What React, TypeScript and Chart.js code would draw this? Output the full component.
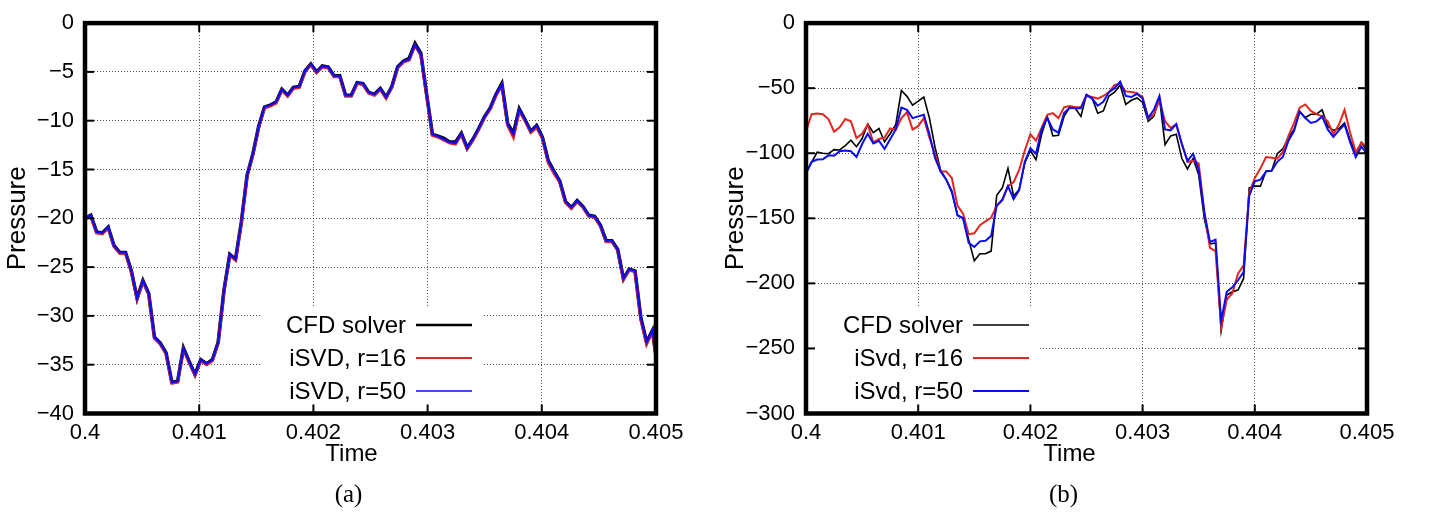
import { useEffect, useRef } from "react";
import { Chart, registerables } from "chart.js";

Chart.register(...registerables);

// ---------- data ----------
const xTickValues = [0.4, 0.401, 0.402, 0.403, 0.404, 0.405];
const leftYTickValues = [0, -5, -10, -15, -20, -25, -30, -35, -40];
const rightYTickValues = [0, -50, -100, -150, -200, -250, -300];

const leftLabels = ["CFD solver", "iSVD, r=16", "iSVD, r=50"];
const rightLabels = ["CFD solver", "iSvd, r=16", "iSvd, r=50"];

// sample times: start + i * step
const leftStart = 0.4;
const leftStep = 0.0000507;
const rightStart = 0.4;
const rightStep = 0.00005;

const leftCfd = [
  -20.0, -19.7, -21.4, -21.5, -20.9, -22.8, -23.5, -23.5, -25.4, -28.2,
  -26.4, -27.7, -32.2, -32.8, -33.8, -36.8, -36.7, -33.3, -34.7, -36.0,
  -34.5, -34.9, -34.5, -32.7, -27.4, -23.7, -24.2, -20.4, -15.6, -13.4,
  -10.6, -8.6, -8.4, -8.1, -6.8, -7.4, -6.6, -6.5, -4.9, -4.2,
  -5.0, -4.4, -4.5, -5.4, -5.4, -7.4, -7.4, -6.1, -6.2, -7.1,
  -7.3, -6.7, -7.6, -6.5, -4.5, -3.9, -3.6, -2.1, -3.1, -7.3,
  -11.4, -11.6, -11.8, -12.2, -12.2, -11.3, -12.8, -11.9, -10.8, -9.6,
  -8.7, -7.3, -6.2, -10.3, -11.3, -8.8, -9.9, -11.1, -10.5, -11.7,
  -14.1, -15.2, -16.2, -18.3, -18.9, -18.2, -18.8, -19.7, -19.8, -20.7,
  -22.3, -22.3, -23.2, -26.2, -25.2, -25.4, -30.2, -32.7, -31.5, -35.7,
];
const leftR16 = [
  -20.0, -19.8, -21.5, -21.6, -21.0, -22.9, -23.6, -23.6, -25.5, -28.3,
  -26.5, -27.8, -32.3, -32.9, -33.9, -36.9, -36.8, -33.4, -34.8, -36.1,
  -34.6, -35.0, -34.6, -32.8, -27.5, -23.8, -24.3, -20.5, -15.7, -13.5,
  -10.7, -8.7, -8.5, -8.2, -6.9, -7.5, -6.7, -6.6, -5.0, -4.3,
  -5.1, -4.5, -4.6, -5.5, -5.5, -7.5, -7.5, -6.2, -6.3, -7.2,
  -7.4, -6.8, -7.7, -6.6, -4.6, -4.0, -3.8, -2.3, -3.3, -7.4,
  -11.5, -11.7, -12.0, -12.3, -12.4, -11.4, -12.9, -12.0, -10.9, -9.7,
  -8.8, -7.4, -6.4, -10.5, -11.7, -9.0, -10.0, -11.2, -10.7, -11.8,
  -14.3, -15.4, -16.3, -18.4, -19.0, -18.3, -18.9, -19.8, -19.9, -20.8,
  -22.4, -22.4, -23.3, -26.3, -25.3, -25.5, -30.4, -32.9, -31.6, -35.8,
];
const leftR50 = [
  -20.0, -19.7, -21.4, -21.5, -20.9, -22.8, -23.5, -23.5, -25.4, -28.2,
  -26.4, -27.7, -32.2, -32.8, -33.8, -36.8, -36.7, -33.3, -34.7, -36.0,
  -34.5, -34.9, -34.5, -32.7, -27.4, -23.7, -24.2, -20.4, -15.6, -13.4,
  -10.6, -8.6, -8.4, -8.1, -6.8, -7.4, -6.6, -6.5, -4.9, -4.2,
  -5.0, -4.4, -4.5, -5.4, -5.4, -7.4, -7.4, -6.1, -6.2, -7.1,
  -7.3, -6.7, -7.6, -6.5, -4.5, -3.9, -3.7, -2.2, -3.2, -7.3,
  -11.4, -11.6, -11.9, -12.2, -12.3, -11.3, -12.8, -11.9, -10.8, -9.6,
  -8.7, -7.3, -6.3, -10.4, -11.4, -8.8, -9.9, -11.1, -10.5, -11.7,
  -14.1, -15.2, -16.2, -18.3, -18.9, -18.2, -18.8, -19.7, -19.8, -20.7,
  -22.3, -22.3, -23.2, -26.2, -25.2, -25.4, -30.2, -32.7, -31.5, -35.7,
];

const rightCfd = [
  -115.4, -107, -99.2, -100, -100.4, -97.2, -97.5, -94.2, -90, -95,
  -88.7, -77.5, -84.2, -81, -91.2, -85, -78, -51.8, -56.3, -63,
  -60, -56.8, -73, -95.4, -113, -120.3, -130.3, -147.3, -150.3, -166.5,
  -182.7, -177.2, -177.2, -175.2, -132.3, -126.6, -111.6, -132.8, -127.8, -107.4,
  -97.9, -104.9, -85.4, -71.7, -86.7, -86.2, -71.7, -64.7, -65.5, -71.7,
  -55, -57.5, -69.2, -67.5, -56, -53, -47.5, -62.5, -59.3, -57.5,
  -61, -75.5, -71.7, -57.5, -93.4, -86.7, -85.4, -104.1, -112.1, -104.1,
  -116.6, -150.3, -169.7, -169, -236.3, -208.9, -206.4, -205.1, -196.4, -126.6,
  -125.3, -125.3, -113.6, -113.6, -100.4, -96.7, -87.9, -81.7, -68, -72.5,
  -70, -70, -66.7, -79.2, -82.4, -81, -76.7, -89.9, -100.4, -91.7,
  -97.9,
];
const rightR16 = [
  -83, -70, -69.5, -70, -73.7, -83.4, -80, -73.7, -75.5, -88.4,
  -85, -78, -91.7, -89, -88, -81, -82, -73, -68.5, -81.7,
  -79.2, -73, -88, -100.4, -114, -114, -119, -140.3, -146.5, -162.2,
  -161.5, -155.3, -152.3, -149.5, -140.3, -135.3, -125.3, -122.3, -112.9, -97.9,
  -85.4, -90.4, -80.5, -70.5, -69.2, -73, -64.7, -63.7, -64.7, -64.7,
  -56, -56.8, -58, -56, -53, -47.5, -46.8, -52.5, -53, -53.8,
  -56.8, -73.5, -70, -59.3, -75.5, -80.5, -78, -92.9, -106.6, -105.9,
  -107.9, -145.3, -172.7, -175.2, -233.8, -212.6, -207.6, -192.6, -186.4, -130.3,
  -119.1, -111.6, -102.9, -103.4, -104.1, -99.2, -86.7, -76.7, -65, -62.5,
  -67.5, -70, -71.7, -75.5, -85.4, -78, -66.7, -84.2, -99.2, -91.7,
  -95.4,
];
const rightR50 = [
  -115.4, -106.6, -104.9, -104.6, -101.6, -102, -98.4, -97.9, -98.4, -102.9,
  -92.9, -85, -92.4, -90.4, -96.7, -89.2, -81.7, -65, -66.7, -73,
  -71.7, -70.5, -85.4, -103.6, -114.1, -120.3, -129.1, -147.8, -149.8, -169,
  -172, -167.7, -167.2, -163.5, -140.3, -136.1, -125.3, -135.3, -128.3, -106.6,
  -96.2, -100.4, -81.7, -73, -81.7, -84.2, -69.2, -65, -65.5, -65.5,
  -55, -58, -63.5, -60.5, -53, -50, -45, -56, -56.8, -54.3,
  -58, -73, -66.7, -56, -81.7, -82.4, -77.5, -92.9, -105.9, -100.4,
  -112.9, -145.3, -168.2, -166.5, -228.8, -206.4, -203.1, -197.6, -191.4, -132.8,
  -121.6, -120.3, -114.1, -113.4, -106.6, -102.9, -90.4, -82.9, -68, -73,
  -76.7, -75.5, -71.7, -81.7, -87.4, -82.4, -78, -91.7, -102.9, -94.9,
  -100.4,
];

// ---------- styling ----------
const COLORS = ["#000000", "#e3261f", "#0b0bf5"];
const SANS = '"Liberation Sans", Arial, Helvetica, sans-serif';
const SERIF = '"Liberation Serif", "DejaVu Serif", serif';
const CANVAS_H = 519;
const PLOT_TOP = 12.5;
const PLOT_BOTTOM = 413.5;

const fmtX = (v: number) => String(Number(v.toFixed(3)));
const fmtY = (v: number) => (v === 0 ? "0" : (v < 0 ? "\u2212" : "") + Math.abs(v));

function legendGeometry(chart: any, o: any) {
  const { ctx, chartArea: ca } = chart;
  const sampleRight = ca.left + o.legendRight;
  const sampleLeft = sampleRight - 56;
  const textRight = sampleLeft - 10;
  const rowY = [0, 1, 2].map((k) => ca.bottom - 88.5 + 33 * k);
  ctx.save();
  ctx.font = `24px ${SANS}`;
  const maxW = Math.max(...chart.data.datasets.map((d: any) => ctx.measureText(d.label).width));
  ctx.restore();
  const boxLeft = o.boxToEdge ? ca.left : textRight - maxW - 26;
  const boxTop = rowY[0] - 17;
  const boxRight = sampleRight + 10;
  return { sampleLeft, sampleRight, textRight, rowY, boxLeft, boxTop, boxRight };
}

const figurePlugin = {
  id: "figure",
  beforeDatasetsDraw(chart: any, _a: any, o: any) {
    const { ctx, chartArea: ca } = chart;
    const g = legendGeometry(chart, o);
    ctx.save();
    ctx.fillStyle = "#ffffff";
    ctx.fillRect(g.boxLeft, g.boxTop, g.boxRight - g.boxLeft, ca.bottom - g.boxTop);
    ctx.restore();
  },
  afterDatasetsDraw(chart: any, _a: any, o: any) {
    const { ctx, chartArea: ca, scales } = chart;
    const g = legendGeometry(chart, o);
    ctx.save();
    // legend
    ctx.font = `24px ${SANS}`;
    ctx.textAlign = "right";
    ctx.textBaseline = "middle";
    ctx.fillStyle = "#000";
    chart.data.datasets.forEach((d: any, k: number) => {
      const y = g.rowY[k];
      ctx.fillText(d.label, g.textRight, y + 1);
      ctx.strokeStyle = d.borderColor;
      ctx.lineWidth = o.legendWidths[k];
      ctx.beginPath();
      ctx.moveTo(g.sampleLeft, y);
      ctx.lineTo(g.sampleRight, y);
      ctx.stroke();
    });
    // inward tick marks (mirrored)
    ctx.strokeStyle = "#000";
    ctx.lineWidth = 2;
    const seg = (x1: number, y1: number, x2: number, y2: number) => {
      ctx.beginPath();
      ctx.moveTo(x1, y1);
      ctx.lineTo(x2, y2);
      ctx.stroke();
    };
    const xs = scales.x;
    const ys = scales.y;
    xs.ticks.forEach((t: any) => {
      const px = xs.getPixelForValue(t.value);
      if (px <= ca.left + 1 || px >= ca.right - 1) return;
      seg(px, ca.bottom, px, ca.bottom - 9);
      seg(px, ca.top, px, ca.top + 9);
    });
    ys.ticks.forEach((t: any) => {
      const py = ys.getPixelForValue(t.value);
      if (py <= ca.top + 1 || py >= ca.bottom - 1) return;
      seg(ca.left, py, ca.left + 9, py);
      seg(ca.right, py, ca.right - 9, py);
    });
    // frame
    ctx.lineWidth = 4.5;
    ctx.strokeRect(ca.left, ca.top, ca.right - ca.left, ca.bottom - ca.top);
    // x title and caption
    const cx = (ca.left + ca.right) / 2;
    ctx.fillStyle = "#000";
    ctx.textAlign = "center";
    ctx.textBaseline = "middle";
    ctx.font = `24px ${SANS}`;
    ctx.fillText(o.xTitle, cx + o.xTitleShift, ca.bottom + 41);
    ctx.font = `25px ${SERIF}`;
    ctx.fillText(o.caption, cx + o.captionShift, ca.bottom + 82);
    ctx.restore();
  },
};

type PanelCfg = {
  left: number;
  canvasWidth: number;
  axisWidth: number;
  padRight: number;
  yTitlePad: number;
  yMin: number;
  yTicks: number[];
  labels: string[];
  series: number[][];
  start: number;
  step: number;
  lineWidths: number[];
  legendWidths: number[];
  legendRight: number;
  boxToEdge: boolean;
  xTitleShift: number;
  captionShift: number;
  caption: string;
};

function makeConfig(p: PanelCfg): any {
  const n = p.series.length;
  const datasets = p.series.map((vals, k) => ({
    label: p.labels[k],
    data: vals.map((v, i) => ({ x: p.start + i * p.step, y: v })),
    borderColor: COLORS[k],
    backgroundColor: COLORS[k],
    borderWidth: p.lineWidths[k],
    pointRadius: 0,
    tension: 0,
    fill: false,
    order: n - k, // later series drawn on top (blue over red over black)
  }));
  const tickFont = { family: SANS, size: 22, lineHeight: 1.1 };
  return {
    type: "line",
    data: { datasets },
    options: {
      responsive: false,
      animation: false,
      devicePixelRatio: 1,
      events: [],
      layout: { padding: { top: PLOT_TOP, right: p.padRight, bottom: 0, left: 0 } },
      plugins: {
        legend: { display: false },
        tooltip: { enabled: false },
        figure: {
          legendRight: p.legendRight,
          legendWidths: p.legendWidths,
          boxToEdge: p.boxToEdge,
          xTitle: "Time",
          xTitleShift: p.xTitleShift,
          caption: p.caption,
          captionShift: p.captionShift,
        },
      },
      scales: {
        x: {
          type: "linear",
          min: 0.4,
          max: 0.405,
          afterBuildTicks: (s: any) => {
            s.ticks = xTickValues.map((v) => ({ value: v }));
          },
          afterFit: (s: any) => {
            s.height = CANVAS_H - PLOT_BOTTOM;
          },
          ticks: {
            autoSkip: false,
            maxRotation: 0,
            minRotation: 0,
            padding: 7,
            color: "#000",
            font: tickFont,
            callback: (v: number) => fmtX(v),
          },
          grid: { color: "rgba(0,0,0,0.7)", lineWidth: 1, drawTicks: false },
          border: { display: false, dash: [1, 2] },
        },
        y: {
          type: "linear",
          min: p.yMin,
          max: 0,
          afterBuildTicks: (s: any) => {
            s.ticks = p.yTicks.map((v) => ({ value: v }));
          },
          afterFit: (s: any) => {
            s.width = p.axisWidth;
          },
          ticks: {
            autoSkip: false,
            padding: 11,
            color: "#000",
            font: tickFont,
            callback: (v: number) => fmtY(v),
          },
          grid: { color: "rgba(0,0,0,0.7)", lineWidth: 1, drawTicks: false },
          border: { display: false, dash: [1, 2] },
          title: {
            display: true,
            text: "Pressure",
            color: "#000",
            font: { family: SANS, size: 26, lineHeight: 1.2 },
            padding: { top: p.yTitlePad, bottom: 0 },
          },
        },
      },
    },
    plugins: [figurePlugin],
  };
}

const leftPanel: PanelCfg = {
  left: 0,
  canvasWidth: 700,
  axisWidth: 85,
  padRight: 44,
  yTitlePad: 2,
  yMin: -40,
  yTicks: leftYTickValues,
  labels: leftLabels,
  series: [leftCfd, leftR16, leftR50],
  start: leftStart,
  step: leftStep,
  lineWidths: [3.6, 2.9, 2.2],
  legendWidths: [2.7, 2.2, 1.6],
  legendRight: 387,
  boxToEdge: false,
  xTitleShift: -19,
  captionShift: -22,
  caption: "(a)",
};

const rightPanel: PanelCfg = {
  left: 700,
  canvasWidth: 729,
  axisWidth: 106,
  padRight: 62,
  yTitlePad: 20,
  yMin: -300,
  yTicks: rightYTickValues,
  labels: rightLabels,
  series: [rightCfd, rightR16, rightR50],
  start: rightStart,
  step: rightStep,
  lineWidths: [1.6, 2.0, 2.0],
  legendWidths: [1.7, 2.0, 2.0],
  legendRight: 223,
  boxToEdge: true,
  xTitleShift: -17,
  captionShift: -23,
  caption: "(b)",
};

function Panel({ cfg }: { cfg: PanelCfg }) {
  const ref = useRef<HTMLCanvasElement | null>(null);
  useEffect(() => {
    if (!ref.current) return;
    const chart = new Chart(ref.current, makeConfig(cfg));
    return () => chart.destroy();
  }, [cfg]);
  return (
    <canvas
      ref={ref}
      width={cfg.canvasWidth}
      height={CANVAS_H}
      style={{ position: "absolute", left: cfg.left, top: 0, width: cfg.canvasWidth, height: CANVAS_H }}
    />
  );
}

export default function App() {
  return (
    <div style={{ position: "absolute", left: 0, top: 0, width: 1429, height: CANVAS_H, background: "#fff" }}>
      <Panel cfg={leftPanel} />
      <Panel cfg={rightPanel} />
    </div>
  );
}
